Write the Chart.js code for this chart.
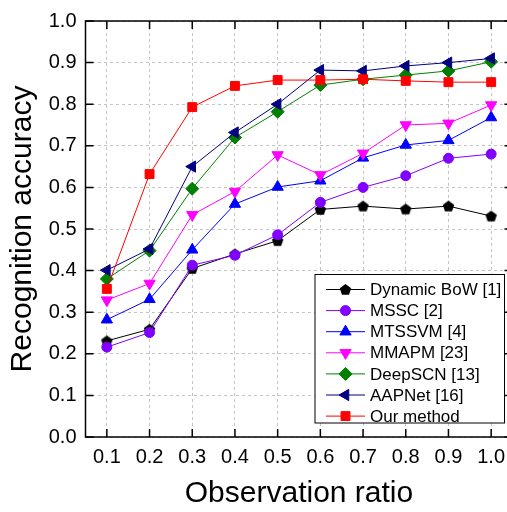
<!DOCTYPE html>
<html>
<head>
<meta charset="utf-8">
<script src="https://cdn.jsdelivr.net/npm/chart.js@4.4.1/dist/chart.umd.min.js"></script>
<style>
  html, body { margin: 0; padding: 0; background: #fff; overflow: hidden; }
  #wrap { width: 520px; height: 512px; }
</style>
</head>
<body>
<div id="wrap"><canvas id="accChart" width="520" height="512"></canvas></div>
<script>
const ratios = ["0.1", "0.2", "0.3", "0.4", "0.5", "0.6", "0.7", "0.8", "0.9", "1.0"];

const dynamicBow = [0.231, 0.259, 0.405, 0.440, 0.472, 0.547, 0.555, 0.548, 0.555, 0.531];
const mssc       = [0.216, 0.251, 0.413, 0.437, 0.486, 0.564, 0.600, 0.628, 0.670, 0.680];
const mtssvm     = [0.282, 0.331, 0.450, 0.560, 0.601, 0.616, 0.671, 0.702, 0.713, 0.768];
const mmapm      = [0.329, 0.369, 0.534, 0.590, 0.678, 0.630, 0.682, 0.750, 0.754, 0.798];
const deepscn    = [0.380, 0.448, 0.597, 0.720, 0.782, 0.846, 0.860, 0.870, 0.880, 0.902];
const aapnet     = [0.401, 0.452, 0.650, 0.732, 0.800, 0.882, 0.880, 0.892, 0.900, 0.910];
const ourMethod  = [0.356, 0.632, 0.793, 0.844, 0.858, 0.858, 0.860, 0.856, 0.853, 0.853];

const seriesNames = ["Dynamic BoW [1]", "MSSC [2]", "MTSSVM [4]", "MMAPM [23]", "DeepSCN [13]", "AAPNet [16]", "Our method"];

const FONT = "'Liberation Sans', Arial, sans-serif";

// pentagon marker (chart.js has no built-in one)
function pentagon(color) {
  const c = document.createElement("canvas");
  c.width = 13;
  c.height = 13;
  const g = c.getContext("2d");
  g.fillStyle = color;
  g.beginPath();
  for (let i = 0; i < 5; i++) {
    const a = -Math.PI / 2 + i * 2 * Math.PI / 5;
    const px = 6.5 + Math.cos(a) * 6;
    const py = 7 + Math.sin(a) * 6;
    if (i === 0) g.moveTo(px, py); else g.lineTo(px, py);
  }
  g.closePath();
  g.fill();
  return c;
}

function series(label, data, color, style, radius, rotation, idx) {
  return {
    label: label,
    data: data,
    borderColor: color,
    backgroundColor: color,
    borderWidth: 1,
    pointStyle: style,
    pointRadius: radius,
    pointRotation: rotation,
    pointBorderWidth: 1,
    pointBorderColor: color,
    pointBackgroundColor: color,
    tension: 0,
    fill: false,
    order: 10 - idx
  };
}

const datasets = [
  series(seriesNames[0], dynamicBow, "#000000", pentagon("#000000"), 6, 0, 0),
  series(seriesNames[1], mssc, "#8000ff", "circle", 5, 0, 1),
  series(seriesNames[2], mtssvm, "#0000ff", "triangle", 6.5, 0, 2),
  series(seriesNames[3], mmapm, "#ff00ff", "triangle", 6.5, 180, 3),
  series(seriesNames[4], deepscn, "#008000", "rectRot", 6.5, 0, 4),
  series(seriesNames[5], aapnet, "#000080", "triangle", 6.5, -90, 5),
  series(seriesNames[6], ourMethod, "#ff0000", "rect", 6.3, 0, 6)
];

// frame + inward ticks
const framePlugin = {
  id: "frame",
  beforeDatasetsDraw(chart) {
    const { ctx, chartArea: a, scales: { x, y } } = chart;
    ctx.save();
    ctx.strokeStyle = "#000";
    ctx.lineWidth = 1.5;
    ctx.beginPath();
    y.ticks.forEach(t => {
      const py = y.getPixelForValue(t.value);
      ctx.moveTo(a.left, py); ctx.lineTo(a.left + 8, py);
      ctx.moveTo(a.right, py); ctx.lineTo(a.right - 8, py);
    });
    ratios.forEach((r, i) => {
      const px = x.getPixelForValue(i);
      ctx.moveTo(px, a.top); ctx.lineTo(px, a.top + 8);
      ctx.moveTo(px, a.bottom); ctx.lineTo(px, a.bottom - 8);
    });
    ctx.stroke();
    ctx.strokeRect(a.left, a.top, a.right - a.left, a.bottom - a.top);
    ctx.restore();
  }
};

// boxed legend in the lower right corner of the plot
const legendBox = {
  id: "legendBox",
  afterDraw(chart) {
    const { ctx, chartArea: a } = chart;
    const left = a.right - 197.5;
    const top = a.bottom - 162.5;
    const w = 189.5;
    const h = 148.5;
    ctx.save();
    ctx.fillStyle = "#fff";
    ctx.fillRect(left, top, w, h);
    ctx.strokeStyle = "#000";
    ctx.lineWidth = 1;
    ctx.strokeRect(left, top, w, h);
    chart.data.datasets.forEach((ds, i) => {
      const ry = top + 15 + i * 21.1;
      ctx.strokeStyle = ds.borderColor;
      ctx.fillStyle = ds.backgroundColor;
      ctx.lineWidth = 1;
      ctx.beginPath();
      ctx.moveTo(left + 11, ry);
      ctx.lineTo(left + 50, ry);
      ctx.stroke();
      Chart.helpers.drawPoint(ctx, {
        pointStyle: ds.pointStyle,
        rotation: ds.pointRotation,
        radius: ds.pointRadius,
        borderWidth: 1
      }, left + 30.5, ry);
      ctx.fillStyle = "#000";
      ctx.font = "17px " + FONT;
      ctx.textBaseline = "middle";
      ctx.textAlign = "left";
      ctx.fillText(ds.label, left + 55, ry + 1);
    });
    ctx.restore();
  }
};

new Chart(document.getElementById("accChart"), {
  type: "line",
  data: { labels: ratios, datasets: datasets },
  plugins: [framePlugin, legendBox],
  options: {
    responsive: false,
    animation: false,
    layout: { padding: { top: 21, right: 5.5, left: 0, bottom: 0 } },
    plugins: { legend: { display: false }, tooltip: { enabled: false } },
    scales: {
      x: {
        type: "category",
        offset: true,
        afterFit: s => { s.height = 75; },
        grid: { color: "#c4c4c4", lineWidth: 1, drawTicks: false, offset: false },
        border: { display: false, dash: [3, 3] },
        ticks: { color: "#000", padding: 8, maxRotation: 0, font: { family: FONT, size: 20 } },
        title: { display: true, text: "Observation ratio", color: "#000", padding: 0, font: { family: FONT, size: 30 } }
      },
      y: {
        min: 0,
        max: 1,
        afterFit: s => { s.width = 85.5; },
        grid: { color: "#c4c4c4", lineWidth: 1, drawTicks: false },
        border: { display: false, dash: [3, 3] },
        ticks: { stepSize: 0.1, color: "#000", padding: 9, font: { family: FONT, size: 20 }, callback: v => v.toFixed(1) },
        title: { display: true, text: "Recognition accuracy", color: "#000", padding: { top: 5 }, font: { family: FONT, size: 30 } }
      }
    }
  }
});
</script>
</body>
</html>
